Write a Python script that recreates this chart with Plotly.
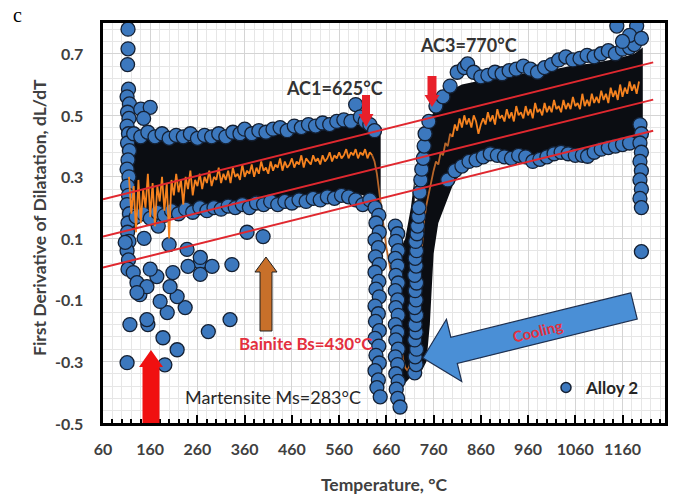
import math
import plotly.graph_objects as go

# ---------------- data ----------------
# left column of points near 113 °C
col_left_T = [113, 113, 112, 114, 111, 116, 112, 115, 111, 114, 112, 116, 113, 111, 115, 112, 114, 111, 116, 113,
              112, 115, 111, 114, 113, 140, 160, 146]
col_left_y = [0.78, 0.716, 0.665, 0.585, 0.56, 0.537, 0.51, 0.49, 0.465, 0.44, 0.41, 0.385, 0.355, 0.325, 0.30,
              0.27, 0.24, 0.21, 0.18, 0.15, 0.12, 0.09, 0.06, 0.03, 0.0, 0.52, 0.526, 0.49]

# scattered points below the band (low temperature)
out_T = [107, 124, 132, 138, 117, 155, 187, 217, 111, 191, 196, 234, 266, 266, 291, 333, 329, 283, 365, 399,
         217, 174, 202, 238, 266, 153, 181, 208, 153, 132, 160, 147, 177, 240, 200]
out_y = [0.087, -0.011, -0.044, -0.083, -0.18, -0.18, -0.223, -0.262, -0.304, -0.311, -0.141, -0.125, 0.022,
         -0.017, 0.009, 0.015, -0.164, -0.203, 0.12, 0.106, -0.089, -0.024, -0.057, 0.064, 0.038, -0.057, -0.105,
         -0.011, -0.164, -0.076, 0.0, 0.10, 0.14, 0.009, 0.08]

# edges of the low-temperature band
bandL_up_T = [125, 140, 155, 170, 185, 200, 215, 230, 245, 260, 275, 290, 305, 320, 335, 350, 360, 375, 390, 405,
              420, 435, 450, 465, 480, 495, 510, 525, 540, 555, 570, 585, 595, 605, 615, 625, 635]
bandL_up_y = [0.44, 0.43, 0.445, 0.43, 0.44, 0.425, 0.435, 0.43, 0.44, 0.425, 0.435, 0.43, 0.44, 0.43, 0.445,
              0.44, 0.455, 0.44, 0.45, 0.445, 0.455, 0.46, 0.45, 0.465, 0.46, 0.47, 0.465, 0.475, 0.47, 0.48,
              0.485, 0.48, 0.535, 0.495, 0.48, 0.47, 0.45]
bandL_lo_T = [130, 145, 160, 175, 190, 205, 220, 235, 250, 265, 280, 295, 310, 325, 340, 355, 370, 385, 400, 415,
              430, 445, 460, 475, 490, 505, 520, 535, 550, 565, 580, 595, 610, 625]
bandL_lo_y = [0.17, 0.18, 0.165, 0.185, 0.175, 0.19, 0.18, 0.195, 0.185, 0.2, 0.19, 0.2, 0.195, 0.205, 0.2, 0.21,
              0.2, 0.215, 0.21, 0.22, 0.21, 0.22, 0.215, 0.225, 0.22, 0.23, 0.225, 0.235, 0.23, 0.24, 0.235,
              0.225, 0.21, 0.225]

# the three stacked columns of the transformation dip
dip1_T = [636, 644, 638, 645, 636, 643, 637, 645, 636, 644, 638, 645, 636, 643, 637, 645, 636, 644, 638, 645,
          636, 643, 640, 647]
dip1_y = [0.20, 0.175, 0.15, 0.12, 0.095, 0.07, 0.04, 0.015, -0.01, -0.04, -0.065, -0.09, -0.12, -0.145, -0.17,
          -0.2, -0.225, -0.25, -0.28, -0.305, -0.33, -0.36, -0.385, -0.415]
dip2_T = [679, 684, 680, 685, 679, 684, 680, 685, 679, 684, 680, 685, 679, 684, 680, 685, 679, 684, 680, 685,
          681, 684, 689]
dip2_y = [0.14, 0.115, 0.09, 0.06, 0.035, 0.01, -0.02, -0.045, -0.07, -0.10, -0.125, -0.15, -0.18, -0.205, -0.23,
          -0.26, -0.285, -0.31, -0.34, -0.365, -0.39, -0.42, -0.448]
dip3_T = [720, 723, 721, 724, 720, 723, 721, 724, 720, 723, 721, 724, 720, 723, 721, 724, 722, 725, 726, 728,
          729, 731, 733, 735, 738, 740, 742]
dip3_y = [-0.337, -0.31, -0.285, -0.26, -0.23, -0.205, -0.18, -0.15, -0.125, -0.10, -0.07, -0.045, -0.02, 0.01,
          0.035, 0.06, 0.09, 0.115, 0.14, 0.172, 0.2, 0.25, 0.29, 0.325, 0.36, 0.40, 0.44]

# edges of the high-temperature band
bandR_up_T = [750, 765, 780, 795, 810, 825, 832, 845, 860, 875, 890, 905, 920, 935, 950, 965, 980, 995, 1010,
              1025, 1040, 1055, 1070, 1085, 1100, 1115, 1130, 1145, 1160, 1175, 1185]
bandR_up_y = [0.48, 0.53, 0.56, 0.595, 0.64, 0.655, 0.667, 0.64, 0.625, 0.63, 0.64, 0.635, 0.645, 0.65, 0.66,
              0.65, 0.64, 0.655, 0.665, 0.68, 0.69, 0.68, 0.685, 0.695, 0.69, 0.70, 0.71, 0.70, 0.715, 0.72, 0.73]
bandR_lo_T = [790, 805, 820, 835, 850, 865, 880, 895, 910, 925, 940, 955, 970, 985, 1000, 1015, 1030, 1045, 1060,
              1075, 1086, 1100, 1115, 1130, 1145, 1160, 1175]
bandR_lo_y = [0.29, 0.32, 0.335, 0.35, 0.355, 0.365, 0.375, 0.37, 0.365, 0.36, 0.37, 0.365, 0.35, 0.357, 0.365,
              0.375, 0.38, 0.375, 0.37, 0.37, 0.367, 0.38, 0.39, 0.395, 0.40, 0.405, 0.41]
top_T = [1148, 1190, 1175, 1200, 1160]
top_y = [0.79, 0.79, 0.76, 0.75, 0.74]
rcol_T = [1197, 1200, 1197, 1200, 1197, 1200, 1197, 1200, 1197, 1200, 1200]
rcol_y = [0.47, 0.44, 0.41, 0.38, 0.35, 0.32, 0.29, 0.26, 0.23, 0.20, 0.057]

# dense (overlapping, black-looking) cores of the point cloud
coreL_T = [118, 130, 150, 175, 200, 250, 300, 350, 400, 450, 500, 550, 600, 630, 648]
coreL_hi = [0.43, 0.43, 0.425, 0.42, 0.415, 0.415, 0.42, 0.425, 0.43, 0.44, 0.45, 0.46, 0.47, 0.46, 0.44]
coreL_lo = [0.10, 0.14, 0.165, 0.18, 0.19, 0.2, 0.21, 0.215, 0.225, 0.23, 0.24, 0.245, 0.245, 0.23, 0.21]
coreD_T = [688, 700, 712, 720]
coreD_hi = [0.06, 0.1, 0.2, 0.3]
coreD_lo = [-0.36, -0.37, -0.35, -0.33]
coreR_T = [726, 735, 745, 752, 760, 770, 785, 800, 820, 850, 900, 950, 1000, 1050, 1100, 1150, 1185, 1203]
coreR_hi = [0.36, 0.44, 0.47, 0.49, 0.51, 0.53, 0.56, 0.585, 0.60, 0.61, 0.62, 0.635, 0.645, 0.66, 0.67, 0.685,
            0.70, 0.72]
coreR_lo = [-0.30, -0.33, -0.30, -0.18, 0.05, 0.15, 0.21, 0.27, 0.32, 0.355, 0.37, 0.37, 0.37, 0.375, 0.375, 0.40,
            0.42, 0.45]

# orange smoothed curve, sampled every 5 °C
orangeL_T = list(range(115, 635, 5))
orangeL_y = [0.30, 0.18, 0.27, 0.12, 0.29, 0.15, 0.26, 0.20, 0.31, 0.17,
             0.28, 0.14, 0.27, 0.22, 0.30, 0.19, 0.28, 0.10, 0.29, 0.24,
             0.31, 0.25, 0.29, 0.21, 0.30, 0.26, 0.32, 0.24, 0.29, 0.27,
             0.31, 0.26, 0.30, 0.28, 0.32, 0.27, 0.30, 0.29, 0.33, 0.28,
             0.31, 0.29, 0.32, 0.28, 0.33, 0.30, 0.31, 0.29, 0.34, 0.30,
             0.32, 0.31, 0.34, 0.30, 0.33, 0.31, 0.35, 0.32, 0.33, 0.31,
             0.35, 0.32, 0.34, 0.33, 0.36, 0.32, 0.35, 0.33, 0.34, 0.36,
             0.33, 0.35, 0.34, 0.37, 0.33, 0.36, 0.35, 0.34, 0.37, 0.35,
             0.36, 0.34, 0.37, 0.35, 0.36, 0.38, 0.35, 0.37, 0.36, 0.38,
             0.36, 0.37, 0.39, 0.36, 0.38, 0.37, 0.39, 0.36, 0.38, 0.37,
             0.39, 0.36, 0.38, 0.37]
orangeD_T = list(range(630, 805, 5))
orangeD_y = [0.37, 0.35, 0.31, 0.25, 0.18, 0.12, 0.07, 0.03, -0.01, -0.06, -0.12,
             -0.18, -0.24, -0.29, -0.32, -0.33, -0.31, -0.28, -0.22, -0.12, -0.02,
             0.08, 0.16, 0.21, 0.25, 0.29, 0.32, 0.35, 0.34, 0.38, 0.37,
             0.41, 0.40, 0.44, 0.43]
orangeR_T = list(range(800, 1200, 5))
orangeR_y = [0.43, 0.47, 0.45, 0.49, 0.46, 0.50, 0.47, 0.49, 0.46, 0.50, 0.48,
             0.44, 0.47, 0.49, 0.47, 0.51, 0.48, 0.50, 0.47, 0.52, 0.49,
             0.50, 0.48, 0.52, 0.49, 0.51, 0.48, 0.53, 0.50, 0.51, 0.49,
             0.53, 0.50, 0.52, 0.49, 0.54, 0.51, 0.52, 0.50, 0.54, 0.51,
             0.53, 0.51, 0.55, 0.52, 0.53, 0.51, 0.55, 0.52, 0.54, 0.52,
             0.56, 0.53, 0.54, 0.52, 0.57, 0.53, 0.55, 0.53, 0.57, 0.54,
             0.56, 0.54, 0.58, 0.55, 0.57, 0.54, 0.59, 0.56, 0.58, 0.55,
             0.60, 0.56, 0.59, 0.57, 0.61, 0.58, 0.60, 0.57, 0.61]

# red linear guide lines
trend_T = [60, 1225]
trend_upper = [0.227, 0.672]
trend_mid = [0.106, 0.551]
trend_lower = [0.005, 0.450]

x_range = [60, 1250]
y_range = [-0.5, 0.8]
y_tick_vals = [-0.5, -0.3, -0.1, 0.1, 0.3, 0.5, 0.7]

# ---------------- figure ----------------
FONT = "Lato"
GREY = "#404040"
pts_T = (col_left_T + out_T + bandL_up_T + bandL_lo_T + dip1_T + dip2_T + dip3_T +
         bandR_up_T + bandR_lo_T + top_T + rcol_T)
pts_y = (col_left_y + out_y + bandL_up_y + bandL_lo_y + dip1_y + dip2_y + dip3_y +
         bandR_up_y + bandR_lo_y + top_y + rcol_y)

fig = go.Figure()
for cT, chi, clo in [(coreL_T, coreL_hi, coreL_lo), (coreD_T, coreD_hi, coreD_lo), (coreR_T, coreR_hi, coreR_lo)]:
    fig.add_trace(go.Scatter(x=cT + cT[::-1], y=chi + clo[::-1], fill="toself", fillcolor="#0b0d12",
                             mode="lines", line=dict(width=0, color="#0b0d12"), showlegend=False,
                             hoverinfo="skip"))

# the part of the smoothed curve in the dip is hidden behind the dense columns
fig.add_trace(go.Scatter(x=orangeD_T, y=orangeD_y, mode="lines", line=dict(color="#b8662a", width=1.8),
                         showlegend=False))

fig.add_trace(go.Scatter(x=pts_T, y=pts_y, mode="markers", name="Alloy 2", showlegend=False,
                         marker=dict(size=14, color="#3c78be", line=dict(width=1.3, color="#142033"))))

for oT, oy in [(orangeL_T, orangeL_y), (orangeR_T, orangeR_y)]:
    fig.add_trace(go.Scatter(x=oT, y=oy, mode="lines", line=dict(color="#f5821f", width=1.8), showlegend=False))

for ty in (trend_upper, trend_mid, trend_lower):
    fig.add_trace(go.Scatter(x=trend_T, y=ty, mode="lines", line=dict(color="#e0282f", width=2),
                             showlegend=False))

# legend entry
fig.add_trace(go.Scatter(x=[None], y=[None], mode="markers", name="Alloy 2",
                         marker=dict(size=10, color="#3c78be", line=dict(width=1.5, color="#142033"))))

# ---------------- annotation helpers (pixel -> paper) ----------------
L, TOP, W, H = 103, 23, 562, 400


def pp(px, py):
    return (px - L) / W, (TOP + H - py) / H


def block_arrow(tail, tip, shaft_w, head_w, head_l, fill, line_color, line_w):
    (x0, y0), (x1, y1) = tail, tip
    dx, dy = x1 - x0, y1 - y0
    n = math.hypot(dx, dy)
    ux, uy = dx / n, dy / n
    nx, ny = -uy, ux
    bx, by = x1 - ux * head_l, y1 - uy * head_l
    s, h = shaft_w / 2, head_w / 2
    pts = [(x0 + nx * s, y0 + ny * s), (bx + nx * s, by + ny * s), (bx + nx * h, by + ny * h), (x1, y1),
           (bx - nx * h, by - ny * h), (bx - nx * s, by - ny * s), (x0 - nx * s, y0 - ny * s)]
    path = "M " + " L ".join("%.4f,%.4f" % pp(*p) for p in pts) + " Z"
    return dict(type="path", xref="paper", yref="paper", path=path, fillcolor=fill,
                line=dict(color=line_color, width=line_w), layer="above")


shapes = [
    block_arrow((366, 95), (366, 127), 8, 15, 13, "#e8202a", "#e8202a", 0),
    block_arrow((432, 76), (432, 107), 9, 15, 12, "#e8202a", "#e8202a", 0),
    block_arrow((266, 331), (266, 257), 12, 22, 15, "#c8702a", "#202020", 1),
    block_arrow((151, 423), (151, 350), 17, 24, 17, "#f01010", "#f01010", 0),
    block_arrow((634, 306), (423, 358), 27, 64, 32, "#4a8fd6", "#1e3050", 1.2),
]


def ann(text, px, py, size, color, bold=True, xanchor="center", angle=0, family=FONT):
    x, y = pp(px, py)
    return dict(text=text, x=x, y=y, xref="paper", yref="paper", showarrow=False, xanchor=xanchor,
                yanchor="middle", textangle=angle,
                font=dict(family=family, size=size, color=color, weight="bold" if bold else "normal"))


tickfont = dict(family=FONT, size=16, color=GREY, weight="bold")
titlefont = dict(family=FONT, size=17.5, color=GREY, weight="bold")

annotations = [
    ann("AC1=625°C", 334, 88, 18, "#333333"),
    ann("AC3=770°C", 468, 45, 18, "#333333"),
    ann("Bainite Bs=430°C", 237, 343, 17, "#e3303e", xanchor="left"),
    ann("Martensite Ms=283°C", 183, 397, 18, "#262626", bold=False, xanchor="left"),
    ann("Cooling", 537, 331, 15, "#e3303e", angle=-14),
    ann("c", 17, 15, 20, "#000000", bold=False, family="Liberation Serif"),
    ann("First Derivative of Dilatation, dL/dT", 39, 218, 17.5, GREY, angle=-90),
]
# y tick labels, placed on the y axis scale
for v in y_tick_vals:
    annotations.append(dict(text="%.1f" % v, x=(85 - L) / W, y=v, xref="paper", yref="y", showarrow=False,
                            xanchor="right", yanchor="middle", font=tickfont))

fig.update_layout(
    width=678, height=495,
    margin=dict(l=L, r=678 - L - W, t=TOP, b=495 - TOP - H),
    paper_bgcolor="white", plot_bgcolor="white",
    shapes=shapes, annotations=annotations,
    showlegend=True,
    legend=dict(x=(546 - L) / W, y=(TOP + H - 388) / H, xanchor="left", yanchor="middle",
                bgcolor="rgba(0,0,0,0)", font=dict(family=FONT, size=17, color="#262626", weight="bold")),
    xaxis=dict(range=x_range, tick0=60, dtick=100, showgrid=True, gridcolor="#d4d4d4", gridwidth=1,
               minor=dict(tick0=60, dtick=20, showgrid=True, gridcolor="#e6e6e6", ticks="inside", ticklen=4,
                          tickwidth=1.5, tickcolor="black"),
               ticks="inside", ticklen=8, tickwidth=2, tickcolor="black", automargin=False,
               showline=True, linecolor="black", linewidth=2.5, mirror=True, zeroline=False,
               tickfont=tickfont, ticklabelstandoff=10,
               title=dict(text="Temperature, °C", font=titlefont, standoff=26)),
    yaxis=dict(range=y_range, tick0=-0.5, dtick=0.2, showgrid=True, gridcolor="#d4d4d4", gridwidth=1,
               minor=dict(tick0=-0.5, dtick=0.04, showgrid=True, gridcolor="#e6e6e6"),
               ticks="", showline=True, linecolor="black", linewidth=2.5, mirror=True,
               zeroline=False, automargin=False, showticklabels=False),
)

fig.write_html("out.html")
